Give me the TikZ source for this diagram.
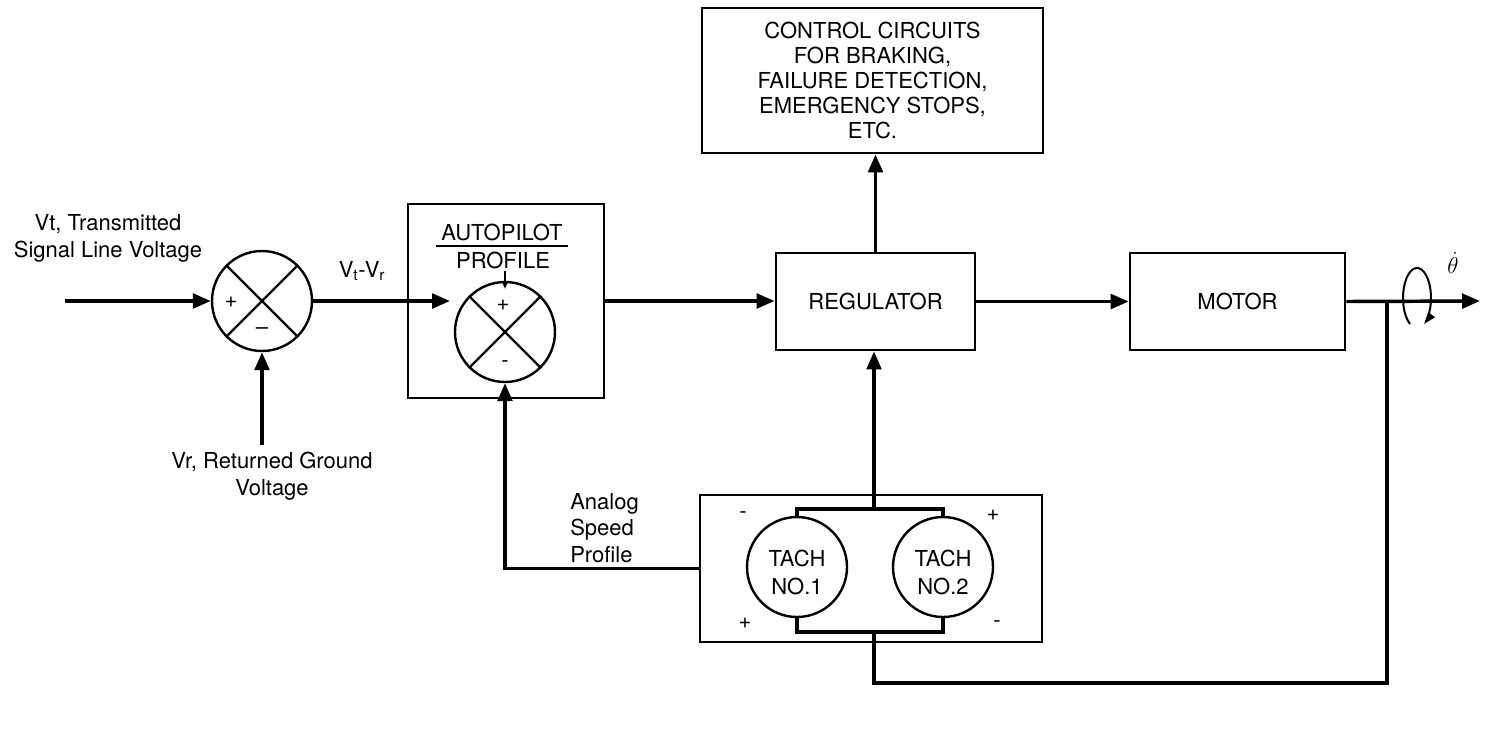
\documentclass[tikz,border=0pt]{standalone}
\usepackage{fontspec}
\setmainfont{TeX Gyre Heros}
\usetikzlibrary{arrows.meta}
\begin{document}
\begin{tikzpicture}[x=0.75pt,y=-0.75pt,
  font=\fontsize{16.5}{20.2}\selectfont,
  box/.style={draw, line width=2.1pt, inner sep=0pt, align=center},
  sig/.style={line width=2.6pt},
  arr/.style={sig, -{Triangle[length=13.5pt,width=11pt]}},
  ring/.style={draw, circle, line width=1.8pt, minimum size=75pt, inner sep=0pt},
  cross/.style={line width=1.8pt},
  lbl/.style={inner sep=0pt, align=center}]
\useasboundingbox (0,0) rectangle (1487,740);

% blocks
\node[box, minimum width=255.75pt, minimum height=108.75pt,
      font=\fontsize{16.5}{18.75}\selectfont] (ctrl) at (872.5,80.5)
  {CONTROL CIRCUITS\\FOR BRAKING,\\FAILURE DETECTION,\\EMERGENCY STOPS,\\ETC.};
\node[box, minimum width=149.25pt, minimum height=72.75pt] (reg) at (875.5,301.5) {REGULATOR};
\node[box, minimum width=161.25pt, minimum height=72.75pt] (mot) at (1237.5,301.5) {MOTOR};
\node[box, minimum width=147pt, minimum height=145.5pt] (ap) at (506,301) {};
\node[box, minimum width=256.5pt, minimum height=110.25pt] (tbox) at (871,568.5) {};

% summing junctions
\node[ring] (s1) at (262,301) {};
\draw[cross] (s1.north west) -- (s1.south east) (s1.north east) -- (s1.south west);
\node[lbl] at (231,302) {+};
\node[lbl] at (262,331) {–};

\node[ring] (s2) at (505,332) {};
\draw[cross] (s2.north west) -- (s2.south east) (s2.north east) -- (s2.south west);
\node[lbl] at (503,305) {+};
\node[lbl] at (505,364) {-};
\draw[line width=1.5pt, -{Triangle[length=5pt,width=4pt]}] ([yshift=7pt]s2.north) -- ([yshift=-6pt]s2.north);

% autopilot title
\node[lbl] (apt) at (502,232) {AUTOPILOT};
\draw[line width=1.4pt] ([xshift=-4pt,yshift=-4pt]apt.south west) -- ([xshift=4pt,yshift=-4pt]apt.south east);
\node[lbl] (apf) at (503,260) {PROFILE};

% tachometers
\node[ring] (t1) at (797,567) {};
\node[ring] (t2) at (943,567) {};
\node[lbl, font=\fontsize{16.5}{21}\selectfont] at (797,572) {TACH\\NO.1};
\node[lbl, font=\fontsize{16.5}{21}\selectfont] at (943,572) {TACH\\NO.2};
\node[lbl] at (743,515) {-};
\node[lbl] at (745,623) {+};
\node[lbl] at (993,515) {+};
\node[lbl] at (997,624) {-};
\coordinate (tb) at (874,509);
\coordinate (bb) at (874,632);
\draw[sig] (t1.north) |- (tb) -| (t2.north);
\draw[sig] (t1.south) |- (bb) -| (t2.south);

% labels
\node[lbl] (lvt) at (108,238) {Vt, Transmitted\\Signal Line Voltage};
\node[lbl] (lvr) at (272,476) {Vr, Returned Ground\\Voltage};
\node[lbl] (lvd) at (362,271) {V\textsubscript{t}-V\textsubscript{r}};
\node[lbl, align=left, anchor=west, font=\fontsize{16.5}{20}\selectfont] (lasp) at (570,528) {Analog\\Speed\\Profile};
\node[lbl] (lth) at (1453,263) {$\dot\theta$};

% connectors
\coordinate (in) at (65,301);
\coordinate (vr) at (262,445);
\coordinate (apin) at (450,301);
\coordinate (out) at (1480,301);
\coordinate (fb) at (1387,301);
\coordinate (fbc) at (874,683);
\draw[arr] (in) -- (s1.west);
\draw[arr] (vr) -- (s1.south);
\draw[arr] (s1.east) -- (apin);
\draw[arr] (ap.east) -- (ap.east -| reg.west);
\draw[arr] (reg.north) -- (ctrl.south -| reg.north);
\draw[arr] (reg.east) -- (mot.west);
\draw[arr] (mot.east) -- (out);
\draw[arr] (tb) -- (tb |- reg.south);
\draw[sig] (fb) |- (fbc) -- (bb);
\draw[arr] (tbox.west) -| (s2.south);

% rotation loop
\coordinate (lc) at (1417,298);
\draw[line width=1.5pt, -{Triangle[length=9pt,width=6pt]}]
  ([shift={(120:14 and 30)}]lc) arc[start angle=120, end angle=420, x radius=14, y radius=30];
\end{tikzpicture}
\end{document}
